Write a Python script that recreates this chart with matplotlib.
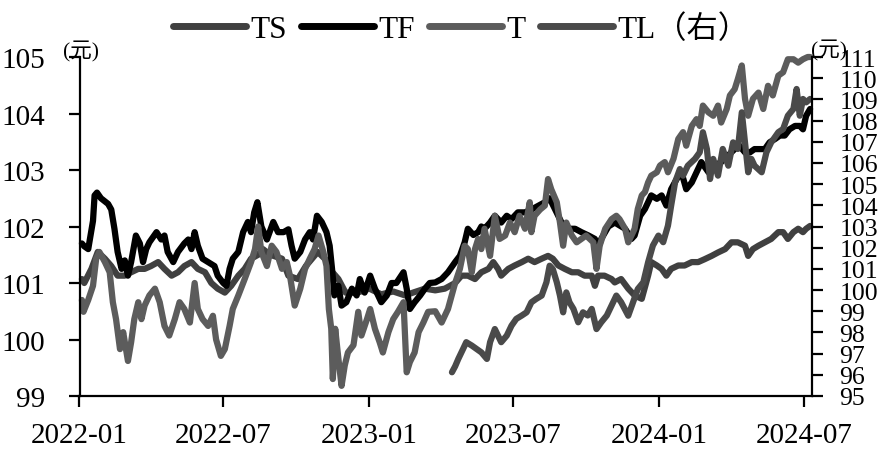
import matplotlib
matplotlib.use('Agg')
import matplotlib.pyplot as plt
import matplotlib.dates as mdates
import pandas as pd

# ---------------- data (days since 2022-01-01, price) ----------------
ts_day = [3, 6, 15, 23, 32, 40, 48, 57, 65, 74,
          82, 90, 99, 107, 116, 124, 132, 141, 149, 158,
          166, 174, 183, 191, 200, 208, 216, 225, 231, 240,
          255, 263, 275, 285, 300, 311, 318, 326, 335, 350,
          365, 380, 395, 410, 420, 435, 448, 460, 473, 481,
          489, 498, 506, 515, 521, 527, 531, 540, 548, 557,
          565, 573, 582, 590, 596, 603, 611, 620, 628, 636,
          645, 649, 653, 661, 670, 674, 682, 691, 699, 708,
          716, 720, 727, 733, 739, 745, 754, 762, 771, 779,
          787, 796, 804, 813, 821, 829, 838, 842, 848, 855,
          863, 871, 880, 886, 892, 899, 905, 911, 915, 920]
ts_val = [101.07, 101.0, 101.25, 101.55, 101.43, 101.3, 101.13, 101.13, 101.19, 101.25,
          101.25, 101.3, 101.37, 101.25, 101.13, 101.19, 101.3, 101.37, 101.25, 101.19,
          101.0, 100.9, 100.83, 100.95, 101.13, 101.25, 101.43, 101.5, 101.6, 101.5,
          101.43, 101.13, 101.07, 101.3, 101.55, 101.4, 101.2, 101.07, 100.83, 100.83,
          100.9, 100.8, 100.85, 100.78, 100.83, 100.9, 100.87, 100.9, 101.0, 101.13,
          101.13, 101.07, 101.19, 101.25, 101.37, 101.25, 101.13, 101.25, 101.31, 101.37,
          101.43, 101.37, 101.43, 101.48, 101.43, 101.31, 101.25, 101.19, 101.19, 101.13,
          101.13, 100.95, 101.13, 101.13, 101.07, 101.01, 101.07, 100.9, 100.78, 100.72,
          101.13, 101.37, 101.31, 101.25, 101.13, 101.25, 101.31, 101.31, 101.37, 101.37,
          101.42, 101.48, 101.54, 101.6, 101.72, 101.72, 101.66, 101.48, 101.6, 101.66,
          101.72, 101.78, 101.9, 101.9, 101.78, 101.9, 101.96, 101.9, 101.96, 102.01]

tf_day = [3, 6, 11, 17, 19, 22, 27, 36, 40, 44,
          48, 53, 57, 61, 65, 71, 76, 80, 84, 88,
          97, 103, 107, 111, 118, 124, 132, 137, 141, 145,
          149, 155, 162, 170, 174, 181, 185, 189, 193, 200,
          206, 212, 216, 220, 224, 229, 236, 244, 250, 257,
          263, 267, 271, 278, 284, 290, 294, 299, 305, 311,
          315, 318, 321, 326, 330, 336, 343, 349, 353, 359,
          366, 372, 380, 387, 393, 399, 408, 412, 416, 422,
          429, 435, 441, 448, 456, 464, 473, 479, 485, 489,
          496, 502, 506, 510, 517, 523, 531, 538, 544, 552,
          561, 569, 578, 586, 592, 599, 607, 615, 624, 632,
          641, 649, 653, 657, 666, 674, 687, 695, 699, 706,
          712, 720, 727, 733, 739, 745, 752, 758, 764, 771,
          777, 783, 792, 800, 808, 817, 825, 831, 838, 844,
          850, 857, 863, 869, 876, 882, 888, 894, 901, 907,
          911, 915, 920]
tf_val = [101.7, 101.65, 101.6, 102.1, 102.55, 102.6, 102.5, 102.4, 102.3, 101.96,
          101.55, 101.25, 101.4, 101.13, 101.37, 101.84, 101.7, 101.37, 101.6, 101.72,
          101.9, 101.77, 101.84, 101.55, 101.37, 101.55, 101.7, 101.77, 101.6, 101.9,
          101.66, 101.43, 101.37, 101.3, 101.13, 101.0, 100.95, 101.25, 101.43, 101.55,
          101.9, 102.08, 101.9, 102.25, 102.43, 102.0, 101.77, 102.08, 101.9, 101.9,
          101.95, 101.66, 101.43, 101.55, 101.77, 101.9, 101.77, 102.19, 102.08, 101.9,
          101.66, 101.25, 100.78, 100.95, 100.6, 100.66, 100.9, 100.78, 101.07, 100.83,
          101.13, 100.9, 100.66, 100.78, 101.0, 101.0, 101.19, 100.9, 100.54, 100.66,
          100.78, 100.9, 101.0, 101.01, 101.07, 101.19, 101.37, 101.48, 101.72, 101.96,
          101.85, 101.9, 102.0, 101.96, 102.07, 102.19, 102.07, 102.19, 102.13, 102.25,
          102.25, 102.3, 102.37, 102.43, 102.5, 102.3, 102.07, 101.96, 101.96, 101.9,
          101.84, 101.78, 101.6, 101.78, 102.0, 102.07, 101.96, 101.78, 101.84, 102.19,
          102.31, 102.55, 102.49, 102.55, 102.37, 102.66, 102.84, 102.96, 102.66, 102.78,
          102.96, 103.14, 102.96, 103.08, 103.14, 103.26, 103.37, 103.43, 103.31, 103.31,
          103.37, 103.37, 103.37, 103.49, 103.55, 103.61, 103.61, 103.72, 103.78, 103.78,
          103.72, 103.96, 104.08]

t_day = [3, 5, 11, 17, 21, 25, 32, 38, 42, 46,
         51, 55, 61, 65, 69, 74, 78, 82, 88, 95,
         101, 107, 113, 120, 126, 132, 139, 145, 149, 155,
         162, 168, 172, 178, 183, 189, 193, 200, 208, 216,
         221, 225, 229, 236, 242, 248, 255, 261, 265, 271,
         278, 284, 290, 296, 301, 307, 311, 314, 317, 319,
         322, 326, 330, 334, 338, 345, 351, 355, 362, 366,
         372, 378, 382, 389, 395, 401, 408, 412, 416, 422,
         427, 433, 439, 448, 456, 464, 473, 479, 485, 489,
         494, 498, 502, 506, 510, 517, 523, 529, 536, 542,
         548, 554, 561, 567, 569, 573, 580, 586, 590, 594,
         601, 605, 609, 613, 620, 626, 632, 638, 647, 651,
         655, 662, 670, 676, 680, 687, 691, 695, 699, 703,
         708, 712, 716, 720, 727, 731, 737, 741, 748, 754,
         760, 764, 771, 777, 781, 785, 792, 798, 804, 808,
         815, 819, 825, 829, 834, 838, 842, 848, 855, 861,
         867, 873, 880, 886, 892, 899, 905, 911, 917, 920]
t_val = [100.7, 100.49, 100.7, 100.95, 101.43, 101.55, 101.37, 101.19, 100.66, 100.36,
         99.83, 100.13, 99.62, 99.95, 100.36, 100.66, 100.36, 100.6, 100.78, 100.9,
         100.66, 100.24, 100.07, 100.36, 100.66, 100.54, 100.3, 101.0, 100.54, 100.36,
         100.24, 100.42, 100.0, 99.71, 99.83, 100.24, 100.54, 100.78, 101.07, 101.37,
         101.6, 102.0, 101.55, 101.3, 101.66, 101.55, 101.25, 101.37, 101.13, 100.6,
         100.9, 101.25, 101.43, 101.6, 101.84, 101.55, 101.3, 100.54, 100.19, 99.3,
         100.19, 99.66, 99.18, 99.54, 99.77, 99.9, 100.49, 100.07, 100.36, 100.54,
         100.19, 99.95, 99.77, 100.13, 100.36, 100.49, 100.66, 99.42, 99.6, 99.77,
         100.13, 100.3, 100.49, 100.5, 100.3, 100.54, 101.0, 101.25, 101.66, 101.6,
         101.19, 101.6, 101.78, 101.6, 101.96, 101.48, 102.19, 101.78, 101.84, 102.07,
         101.9, 102.19, 101.96, 102.43, 101.9, 102.19, 102.3, 102.37, 102.84, 102.66,
         102.43, 102.07, 101.66, 102.07, 101.84, 101.72, 101.78, 101.84, 101.72, 101.25,
         101.66, 101.96, 102.13, 102.19, 102.13, 101.96, 101.72, 101.84, 101.96, 102.31,
         102.55, 102.61, 102.78, 102.9, 102.96, 103.08, 103.14, 102.96, 103.2, 103.55,
         103.67, 103.43, 103.78, 103.9, 103.78, 104.14, 104.02, 103.96, 104.14, 103.84,
         104.08, 104.32, 104.43, 104.61, 104.85, 104.26, 103.96, 104.26, 104.37, 104.08,
         104.49, 104.32, 104.67, 104.73, 104.96, 104.96, 104.9, 104.96, 105.0, 105.0]

tl_day = [469, 473, 477, 483, 487, 494, 500, 506, 513, 517,
          523, 527, 531, 538, 544, 550, 557, 563, 569, 575,
          582, 588, 592, 596, 601, 605, 609, 613, 617, 622,
          628, 634, 640, 645, 651, 657, 664, 670, 676, 682,
          691, 697, 703, 710, 716, 722, 729, 735, 741, 745,
          750, 756, 760, 766, 775, 781, 785, 790, 794, 798,
          804, 810, 817, 823, 829, 834, 838, 842, 846, 850,
          859, 865, 871, 880, 886, 892, 899, 903, 907, 911,
          915, 920]
tl_val = [96.12, 96.4, 96.75, 97.22, 97.54, 97.38, 97.22, 97.06, 96.75, 97.54,
          98.16, 97.85, 97.54, 97.85, 98.32, 98.64, 98.8, 98.95, 99.42, 99.58,
          99.74, 100.37, 101.15, 100.99, 100.37, 99.74, 98.95, 99.89, 99.42, 99.11,
          98.48, 98.95, 98.8, 99.11, 98.16, 98.48, 98.8, 99.27, 99.74, 99.43,
          98.79, 99.42, 100.05, 100.37, 101.31, 102.1, 102.57, 102.26, 103.04, 103.98,
          105.09, 105.71, 105.4, 105.87, 106.19, 106.5, 107.45, 106.66, 105.24, 106.19,
          105.4, 106.66, 105.87, 106.97, 106.66, 108.39, 106.97, 105.56, 106.19, 105.87,
          105.56, 106.5, 106.97, 107.45, 107.6, 108.23, 108.55, 109.49, 108.23, 109.02,
          108.86, 109.02]

series_labels = ['TS', 'TF', 'T', 'TL（右）']
left_ticks = list(range(99, 106))
right_ticks = list(range(95, 112))
unit_label = '(元)'

# ---------------- plotting ----------------
plt.rcParams['font.family'] = ['Liberation Serif', 'Noto Sans CJK SC', 'DejaVu Sans']

base = pd.Timestamp('2022-01-01')


def to_dates(days):
    return base + pd.to_timedelta(days, unit='D')


W, H = 886, 452
fig = plt.figure(figsize=(W / 100, H / 100), dpi=100)
x0, x1, y0, y1 = 79.5, 811.7, 58, 397
ax = fig.add_axes([x0 / W, 1 - y1 / H, (x1 - x0) / W, (y1 - y0) / H])
ax2 = ax.twinx()

lw = 4.5
kw = dict(lw=lw, solid_capstyle='round', solid_joinstyle='round', clip_on=False)
h1, = ax.plot(to_dates(ts_day), ts_val, color='#404040', label=series_labels[0], **kw)
h2, = ax.plot(to_dates(tf_day), tf_val, color='#000000', label=series_labels[1], **kw)
h3, = ax.plot(to_dates(t_day), t_val, color='#5c5c5c', label=series_labels[2], **kw)
h4, = ax2.plot(to_dates(tl_day), tl_val, color='#4a4a4a', label=series_labels[3], **kw)

ax.set_xlim(base, base + pd.Timedelta(days=922))
ax.set_ylim(99, 105)
ax2.set_ylim(95, 111)
ax.set_yticks(left_ticks)
ax2.set_yticks(right_ticks)
ax.xaxis.set_major_locator(mdates.MonthLocator(bymonth=[1, 7]))
ax.xaxis.set_major_formatter(mdates.DateFormatter('%Y-%m'))

for a in (ax, ax2):
    a.spines['top'].set_visible(False)
    for s in ('left', 'right', 'bottom'):
        a.spines[s].set_linewidth(1.6)
ax.spines['right'].set_visible(False)
ax2.spines['left'].set_visible(False)
ax2.spines['bottom'].set_visible(False)

ax.tick_params(axis='y', direction='out', length=8, width=1.6, labelsize=21, pad=17)
ax.tick_params(axis='x', direction='out', length=8, width=1.6, labelsize=21, pad=11)
ax2.tick_params(axis='y', direction='out', length=8, width=1.6, labelsize=18.5, pad=12)

leg = fig.legend([h1, h2, h3, h4], series_labels, loc='center', bbox_to_anchor=(461 / W, 1 - 30 / H),
                 ncol=4, frameon=False, fontsize=22.5, handlelength=2.33, handletextpad=0.15,
                 columnspacing=0.45, borderaxespad=0)
for lh in leg.legend_handles:
    lh.set_linewidth(5)

fig.text(81 / W, 1 - 52 / H, unit_label, ha='center', va='center', fontsize=15.5)
fig.text(829 / W, 1 - 51 / H, unit_label, ha='center', va='center', fontsize=15.5)

fig.savefig('out.png', dpi=100)
